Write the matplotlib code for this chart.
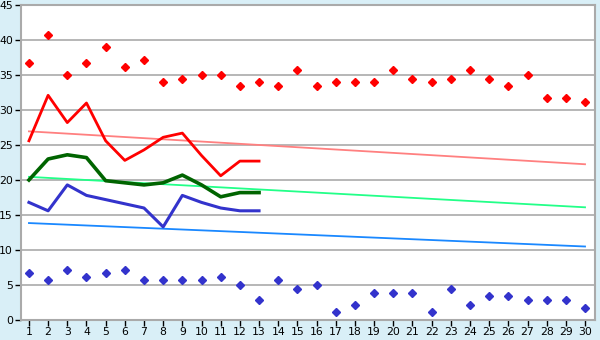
import matplotlib
matplotlib.use("Agg")
import matplotlib.pyplot as plt

# Dias do mes
dias = list(range(1, 31))
dias_linha = list(range(1, 14))

# Maximas e minimas (pontos)
maximas = [36.7, 40.7, 35.0, 36.7, 39.0, 36.1, 37.2, 34.0, 34.4, 35.0,
           35.0, 33.4, 34.0, 33.4, 35.7, 33.4, 34.0, 34.0, 34.0, 35.7,
           34.4, 34.0, 34.4, 35.7, 34.4, 33.4, 35.0, 31.7, 31.7, 31.1]
minimas = [6.7, 5.7, 7.2, 6.1, 6.7, 7.2, 5.7, 5.7, 5.7, 5.7,
           6.1, 5.0, 2.8, 5.7, 4.4, 5.0, 1.1, 2.2, 3.9, 3.9,
           3.9, 1.1, 4.4, 2.2, 3.4, 3.4, 2.8, 2.8, 2.8, 1.7]

# Linhas do mes atual
temp_max = [25.6, 32.1, 28.2, 31.0, 25.6, 22.8, 24.3, 26.1, 26.7, 23.5,
            20.6, 22.7, 22.7]
temp_med = [20.0, 23.0, 23.6, 23.2, 19.9, 19.6, 19.3, 19.6, 20.7, 19.3,
            17.6, 18.2, 18.2]
temp_min = [16.8, 15.6, 19.3, 17.8, 17.2, 16.6, 16.0, 13.3, 17.8, 16.8,
            16.0, 15.6, 15.6]

# Tendencias (inicio e fim do mes)
dias_tend = [1, 30]
tend_max = [26.95, 22.25]
tend_med = [20.45, 16.1]
tend_min = [13.85, 10.5]

fig = plt.figure(figsize=(6, 3.4), dpi=100, facecolor="#d9eff7")
ax = fig.add_axes([20.5 / 600, 20 / 340, 574.5 / 600, 315 / 340])
ax.set_facecolor("white")

ax.plot(dias_tend, tend_max, color="#ff8080", lw=1.3, zorder=2)
ax.plot(dias_tend, tend_med, color="#22ff88", lw=1.3, zorder=2)
ax.plot(dias_tend, tend_min, color="#1a88ff", lw=1.3, zorder=2)

ax.plot(dias_linha, temp_max, color="#ff0000", lw=2, zorder=3)
ax.plot(dias_linha, temp_med, color="#006400", lw=2.6, zorder=3)
ax.plot(dias_linha, temp_min, color="#3333cc", lw=2.2, zorder=3)

ax.plot(dias, maximas, ls="none", marker="D", ms=3.8, color="#ff0000", zorder=4)
ax.plot(dias, minimas, ls="none", marker="D", ms=3.8, color="#3333cc", zorder=4)

ax.set_xlim(0.56, 30.52)
ax.set_ylim(0, 45)
ax.set_xticks(dias)
ax.set_yticks(range(0, 46, 5))
ax.yaxis.grid(True, color="#aaaaaa", lw=1.2)
ax.set_axisbelow(True)

for s in ax.spines.values():
    s.set_color("#aaaaaa")
    s.set_linewidth(1.5)

ax.tick_params(axis="both", labelsize=7.8, colors="#000000", length=4, width=1, pad=1.5)
ax.tick_params(axis="x", length=4, pad=1)
for lbl in ax.get_yticklabels():
    lbl.set_verticalalignment("center_baseline")

fig.savefig("out.png", dpi=100, facecolor=fig.get_facecolor())
